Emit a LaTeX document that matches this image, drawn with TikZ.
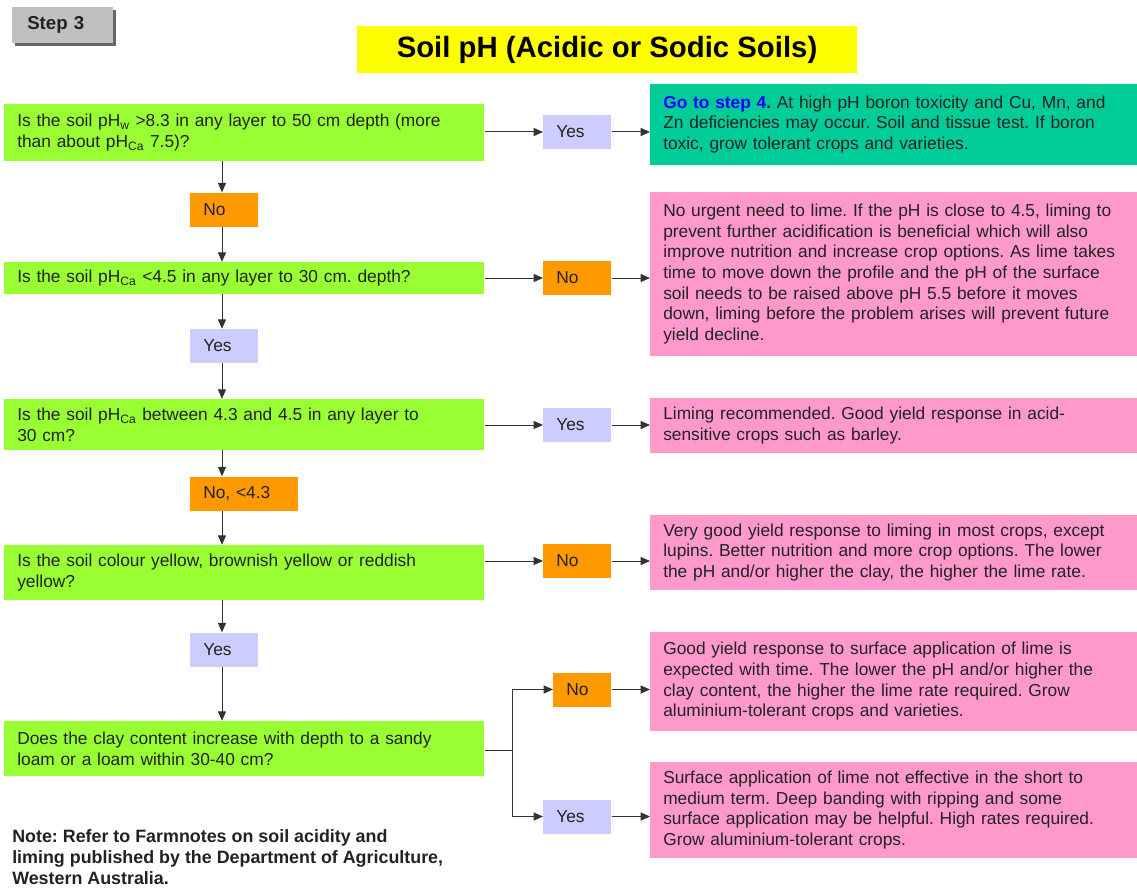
\documentclass[tikz,border=0pt]{standalone}
\usepackage{fontspec}
\setmainfont{Liberation Sans}
\usetikzlibrary{arrows.meta,shadows}
\definecolor{qgreen}{HTML}{99FF33}
\definecolor{lav}{HTML}{CCCCFF}
\definecolor{orng}{HTML}{FF9900}
\definecolor{pnk}{HTML}{FF99CC}
\definecolor{teal2}{HTML}{00CC99}
\definecolor{ttl}{HTML}{FFFF00}
\definecolor{stepgray}{HTML}{C0C0C0}
\definecolor{txt}{HTML}{222222}
\definecolor{linec}{HTML}{333333}
\frenchspacing
\begin{document}
\begin{tikzpicture}[x=0.75pt,y=-0.75pt,
  every node/.style={text=txt, font=\fontsize{13}{15.5}\selectfont},
  box/.style={anchor=west, inner xsep=9.75pt, inner ysep=0pt, align=left},
  qbox/.style={box, fill=qgreen, text width=340.5pt},
  rbox/.style={box, fill=pnk, text width=345.75pt},
  tbox/.style={box, fill=teal2, text width=345.75pt},
  yesbox/.style={box, fill=lav, text width=31.5pt, minimum height=25.5pt},
  nobox/.style={box, fill=orng, text width=31.5pt, minimum height=25.5pt},
  arr/.style={draw=linec, line width=0.75pt, -{Triangle[length=7pt,width=6pt]}},
  ln/.style={draw=linec, line width=0.75pt}]
\useasboundingbox (0,0) rectangle (1137,888);

% header
\node[anchor=west, fill=stepgray, minimum width=75.75pt, minimum height=27pt,
  inner xsep=11.25pt, align=left, text width=53.25pt,
  drop shadow={shadow xshift=2pt, shadow yshift=-2pt, fill=gray!80!black, opacity=1},
  font=\fontsize{14}{16}\selectfont\bfseries] (step) at (12,25) {Step 3};
\node[fill=ttl, minimum width=375pt, minimum height=35.25pt, inner sep=0pt,
  font=\fontsize{22}{24}\selectfont\bfseries, text=black] (title) at (607,49.5) {Soil pH (Acidic or Sodic Soils)};

% questions
\node[qbox, minimum height=42.75pt] (q1) at (4,132.5) {Is the soil pH\textsubscript{w} >8.3 in any layer to 50 cm depth (more\\ than about pH\textsubscript{Ca} 7.5)?};
\node[qbox, minimum height=24pt] (q2) at (4,278) {Is the soil pH\textsubscript{Ca} <4.5 in any layer to 30 cm. depth?};
\node[qbox, minimum height=38.25pt] (q3) at (4,424.5) {Is the soil pH\textsubscript{Ca} between 4.3 and 4.5 in any layer to\\ 30 cm?};
\node[qbox, minimum height=41.25pt] (q4) at (4,572.5) {Is the soil colour yellow, brownish yellow or reddish\\ yellow?};
\node[qbox, minimum height=41.25pt] (q5) at (4,748.5) {Does the clay content increase with depth to a sandy\\ loam or a loam within 30-40 cm?};

% vertical answer boxes
\node[nobox] (no1) at (190,209.5) {No};
\node[yesbox] (yes2) at (190,346) {Yes};
\node[nobox, text width=61.5pt] (no3) at (190,493.5) {No, <4.3};
\node[yesbox] (yes4) at (190,649.5) {Yes};

% horizontal answer boxes
\node[yesbox] (yes1) at (543,132) {Yes};
\node[nobox] (no2) at (543,278) {No};
\node[yesbox] (yes3) at (543,425) {Yes};
\node[nobox] (no4) at (543,561) {No};
\node[nobox, text width=24pt] (no5) at (553,689.5) {No};
\node[yesbox] (yes5) at (543,816.5) {Yes};

% results
\node[tbox, minimum height=60.75pt] (r1) at (650,124.5) {\textcolor{blue}{\bfseries Go to step 4}\textbf{.} At high pH boron toxicity and Cu, Mn, and\\ Zn deficiencies may occur. Soil and tissue test. If boron\\ toxic, grow tolerant crops and varieties.};
\node[rbox, minimum height=123pt] (r2) at (650,274) {No urgent need to lime. If the pH is close to 4.5, liming to\\ prevent further acidification is beneficial which will also\\ improve nutrition and increase crop options. As lime takes\\ time to move down the profile and the pH of the surface\\ soil needs to be raised above pH 5.5 before it moves\\ down, liming before the problem arises will prevent future\\ yield decline.};
\node[rbox, minimum height=41.25pt] (r3) at (650,425.5) {Liming recommended. Good yield response in acid-\\ sensitive crops such as barley.};
\node[rbox, minimum height=56.25pt] (r4) at (650,552.5) {Very good yield response to liming in most crops, except\\ lupins. Better nutrition and more crop options. The lower\\ the pH and/or higher the clay, the higher the lime rate.};
\node[rbox, minimum height=74.25pt] (r5) at (650,681.5) {Good yield response to surface application of lime is\\ expected with time. The lower the pH and/or higher the\\ clay content, the higher the lime rate required. Grow\\ aluminium-tolerant crops and varieties.};
\node[rbox, minimum height=72pt] (r6) at (650,810) {Surface application of lime not effective in the short to\\ medium term. Deep banding with ripping and some\\ surface application may be helpful. High rates required.\\ Grow aluminium-tolerant crops.};

% note
\node[anchor=west, inner sep=0pt, align=left, font=\fontsize{13.4}{15.75}\selectfont\bfseries] (note) at (12,857) {Note: Refer to Farmnotes on soil acidity and\\ liming published by the Department of Agriculture,\\ Western Australia.};

% connectors
\coordinate (col) at (222,0);
\draw[arr] (q1.south -| col) -- (no1.north -| col);
\draw[arr] (no1.south -| col) -- (q2.north -| col);
\draw[arr] (q2.south -| col) -- (yes2.north -| col);
\draw[arr] (yes2.south -| col) -- (q3.north -| col);
\draw[arr] (q3.south -| col) -- (no3.north -| col);
\draw[arr] (no3.south -| col) -- (q4.north -| col);
\draw[arr] (q4.south -| col) -- (yes4.north -| col);
\draw[arr] (yes4.south -| col) -- (q5.north -| col);

\draw[arr] (yes1.west -| q1.east) -- (yes1.west);
\draw[arr] (yes1.east) -- (yes1.east -| r1.west);
\draw[arr] (no2.west -| q2.east) -- (no2.west);
\draw[arr] (no2.east) -- (no2.east -| r2.west);
\draw[arr] (yes3.west -| q3.east) -- (yes3.west);
\draw[arr] (yes3.east) -- (yes3.east -| r3.west);
\draw[arr] (no4.west -| q4.east) -- (no4.west);
\draw[arr] (no4.east) -- (no4.east -| r4.west);

\coordinate (br) at (512,750);
\draw[ln] (q5.east |- br) -- (br);
\draw[arr] (br) |- (no5.west);
\draw[arr] (br) |- (yes5.west);
\draw[arr] (no5.east) -- (no5.east -| r5.west);
\draw[arr] (yes5.east) -- (yes5.east -| r6.west);
\end{tikzpicture}
\end{document}
